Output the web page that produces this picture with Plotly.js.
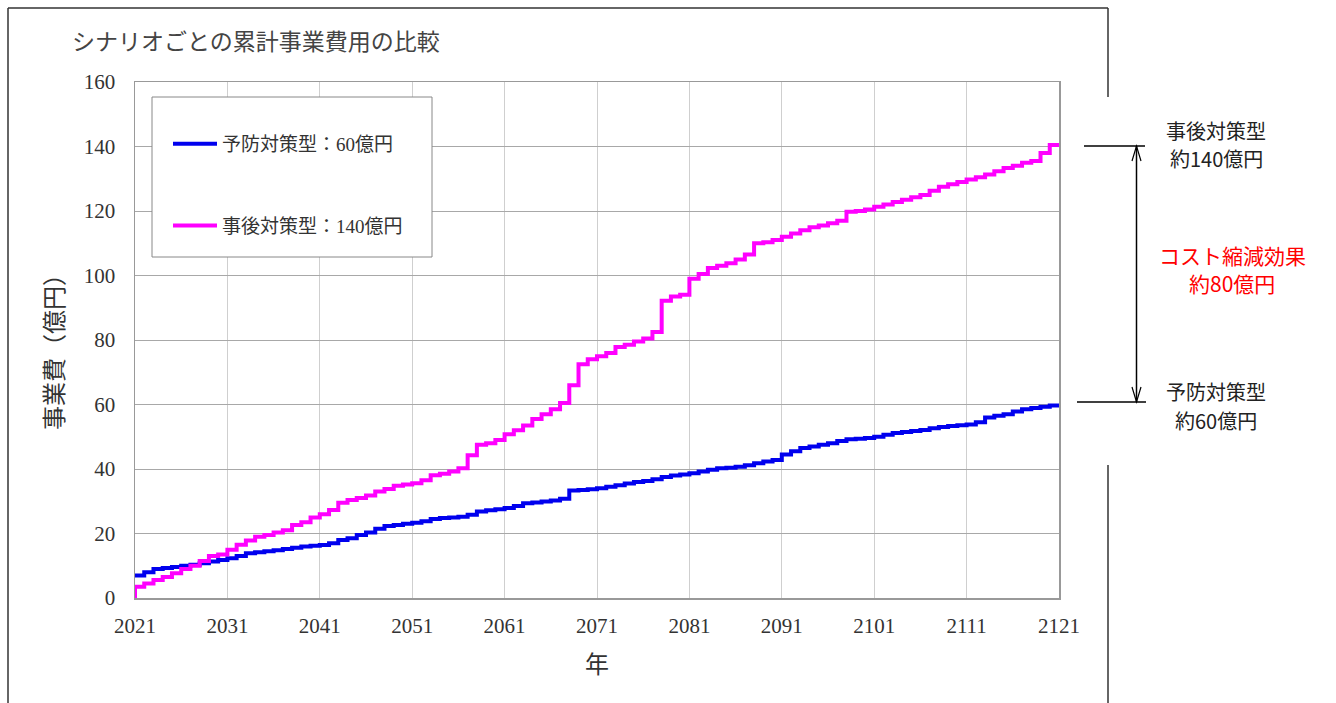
<!DOCTYPE html>
<html>
<head>
<meta charset="utf-8">
<script src="https://cdn.plot.ly/plotly-3.0.1.min.js"></script>
<style>html,body{margin:0;padding:0;background:#fff;}#chart{width:1336px;height:703px;}</style>
</head>
<body>
<div id="chart"></div>
<script>
// ---- data ----
const chartTitle = "シナリオごとの累計事業費用の比較";
const xAxisTitle = "年";
const yAxisTitle = "事業費（億円）";
const firstYear = 2021;
const lastYear = 2121;
const xTickVals = [2021, 2031, 2041, 2051, 2061, 2071, 2081, 2091, 2101, 2111, 2121];
const yTickVals = [0, 20, 40, 60, 80, 100, 120, 140, 160];

const preventiveName = "予防対策型：60億円";
const reactiveName = "事後対策型：140億円";

// cumulative cost (億円) for each year 2021..2121
const preventive = [
  7, 8, 9, 9.3, 9.6, 10, 10.3, 10.8, 11.3, 11.8,
  12.3, 13, 13.9, 14.2, 14.5, 14.8, 15.2, 15.6, 16, 16.2,
  16.4, 17, 18, 18.5, 19.5, 20.3, 21.5, 22.3, 22.6, 23,
  23.3, 23.8, 24.5, 24.8, 25, 25.2, 25.8, 26.8, 27.2, 27.5,
  27.9, 28.5, 29.4, 29.6, 29.9, 30.2, 30.8, 33.3, 33.5, 33.7,
  34, 34.5, 35, 35.5, 36, 36.3, 36.8, 37.5, 38, 38.3,
  38.7, 39.2, 39.8, 40.2, 40.4, 40.7, 41.2, 41.8, 42.3, 42.8,
  44.5, 45.5, 46.5, 47, 47.5, 48, 48.7, 49.2, 49.4, 49.6,
  50, 50.6, 51.2, 51.5, 51.8, 52.1, 52.6, 53, 53.3, 53.6,
  53.8, 54.5, 56, 56.5, 57, 57.8, 58.5, 58.9, 59.3, 59.7,
  59.8
];
const reactiveStart = 0;
const reactive = [
  3.5, 4.5, 5.6, 6.5, 7.7, 9, 10, 11.5, 13, 13.5,
  15, 16.5, 17.8, 19, 19.5, 20.3, 21, 22.6, 23.5, 25,
  26, 27.3, 29.5, 30.4, 31, 31.8, 33, 33.8, 34.8, 35.2,
  35.6, 36.5, 38.1, 38.5, 39.2, 40.2, 44.3, 47.5, 48, 49,
  50.8, 52, 53.5, 55.5, 57, 58.5, 60.5, 66, 72.5, 74,
  75, 76, 77.8, 78.5, 79.5, 80.5, 82.5, 92.2, 93.5, 94,
  99, 100.5, 102.3, 103, 103.8, 105, 106.5, 110, 110.3, 111,
  112, 113, 114, 115, 115.5, 116.2, 117, 119.8, 120, 120.5,
  121.3, 122, 122.8, 123.5, 124.3, 125, 126.3, 127.5, 128.3, 129,
  129.8, 130.5, 131.3, 132.3, 133.3, 134, 135, 135.5, 138, 140.5,
  140.5
];

const noteReactiveLines = ["事後対策型", "約140億円"];
const noteSavingLines = ["コスト縮減効果", "約80億円"];
const notePreventiveLines = ["予防対策型", "約60億円"];

// ---- build ----
const years = [];
for (let y = firstYear; y <= lastYear; y++) years.push(y);

const W = 1336, H = 703;
const L = 135, R = 1059, T = 82, B = 598;
const px = x => (x - L) / (R - L);
const py = y => (B - y) / (B - T);

const serif = "Liberation Serif, Noto Sans CJK JP, serif";
const cjk = "Noto Sans CJK JP, sans-serif";

const traces = [
  {
    x: years, y: preventive, name: preventiveName, type: "scatter", mode: "lines",
    line: {color: "#0000ee", width: 4, shape: "hv"}, legendgroup: "a"
  },
  {
    x: [firstYear].concat(years), y: [reactiveStart].concat(reactive), name: reactiveName,
    type: "scatter", mode: "lines",
    line: {color: "#ff00ff", width: 4, shape: "hv"}, legendgroup: "b"
  }
];

const shapes = [
  // outer frame
  {type: "line", xref: "paper", yref: "paper", x0: px(8), x1: px(8), y0: py(8), y1: py(703), line: {color: "#333", width: 1.5}},
  {type: "line", xref: "paper", yref: "paper", x0: px(8), x1: px(1108), y0: py(8), y1: py(8), line: {color: "#333", width: 1.5}},
  {type: "line", xref: "paper", yref: "paper", x0: px(1108), x1: px(1108), y0: py(8), y1: py(97), line: {color: "#333", width: 1.5}},
  {type: "line", xref: "paper", yref: "paper", x0: px(1108), x1: px(1108), y0: py(465), y1: py(703), line: {color: "#333", width: 1.5}},
  // legend box
  {type: "rect", xref: "paper", yref: "paper", x0: px(152), x1: px(432), y0: py(97), y1: py(257), line: {color: "#888", width: 1}, fillcolor: "#fff", layer: "above"},
  // right annotation lines
  {type: "line", xref: "paper", yref: "paper", x0: px(1084), x1: px(1145), y0: py(146), y1: py(146), line: {color: "#000", width: 1.5}},
  {type: "line", xref: "paper", yref: "paper", x0: px(1077), x1: px(1146), y0: py(402), y1: py(402), line: {color: "#000", width: 1.5}},
  {type: "line", xref: "paper", yref: "paper", x0: px(1136.5), x1: px(1136.5), y0: py(146), y1: py(402), line: {color: "#000", width: 1.5}},
  {type: "path", xref: "paper", yref: "paper",
    path: `M${px(1132)},${py(161)} L${px(1136.5)},${py(146)} L${px(1141)},${py(161)}`, line: {color: "#000", width: 1.2}},
  {type: "path", xref: "paper", yref: "paper",
    path: `M${px(1132)},${py(387)} L${px(1136.5)},${py(402)} L${px(1141)},${py(387)}`, line: {color: "#000", width: 1.2}}
];

function note(text, cx, cy, color, size) {
  return {text: text, xref: "paper", yref: "paper", x: px(cx), y: py(cy), xanchor: "center", yanchor: "middle",
    showarrow: false, font: {family: cjk, size: size, color: color}};
}

const annotations = [
  {text: chartTitle, xref: "paper", yref: "paper", x: px(70), y: py(42), xanchor: "left", yanchor: "middle",
    showarrow: false, font: {family: serif, size: 23, color: "#444"}},
  {text: yAxisTitle, xref: "paper", yref: "paper", x: px(55), y: py(346), xanchor: "center", yanchor: "middle",
    textangle: -90, showarrow: false, font: {family: serif, size: 24, color: "#333"}},
  {text: xAxisTitle, xref: "paper", yref: "paper", x: px(597), y: py(665), xanchor: "center", yanchor: "middle",
    showarrow: false, font: {family: serif, size: 24, color: "#333"}},
  note(noteReactiveLines[0], 1216, 131, "#222", 20),
  note(noteReactiveLines[1], 1216, 158, "#222", 20),
  note(noteSavingLines[0], 1232, 255, "#ff0000", 21),
  note(noteSavingLines[1], 1232, 283, "#ff0000", 21),
  note(notePreventiveLines[0], 1216, 391, "#222", 20),
  note(notePreventiveLines[1], 1216, 420, "#222", 20)
];

const layout = {
  width: W, height: H,
  margin: {l: L, r: W - R, t: T, b: H - B, pad: 0},
  paper_bgcolor: "#fff", plot_bgcolor: "#fff",
  showlegend: true,
  legend: {x: px(168), y: py(125), xanchor: "left", yanchor: "top", bgcolor: "rgba(0,0,0,0)",
    borderwidth: 0, tracegroupgap: 54, itemwidth: 44, font: {family: serif, size: 19, color: "#333"}},
  xaxis: {range: [firstYear, lastYear], tickvals: xTickVals, ticktext: xTickVals.map(String),
    showgrid: true, gridcolor: "#cfcfcf", gridwidth: 1, zeroline: false, showline: true, linecolor: "#999", linewidth: 1.5,
    mirror: true, ticks: "", ticklabelstandoff: 8, tickfont: {family: serif, size: 21, color: "#333"}, fixedrange: true},
  yaxis: {range: [0, 160], tickvals: yTickVals, showgrid: true, gridcolor: "#a8a8a8", gridwidth: 1, zeroline: false,
    showline: true, linecolor: "#999", linewidth: 1.5, mirror: true, ticks: "", ticklabelstandoff: 14,
    tickfont: {family: serif, size: 21, color: "#333"}, fixedrange: true},
  shapes: shapes,
  annotations: annotations
};

Plotly.newPlot("chart", traces, layout, {displayModeBar: false, staticPlot: true});
</script>
</body>
</html>
